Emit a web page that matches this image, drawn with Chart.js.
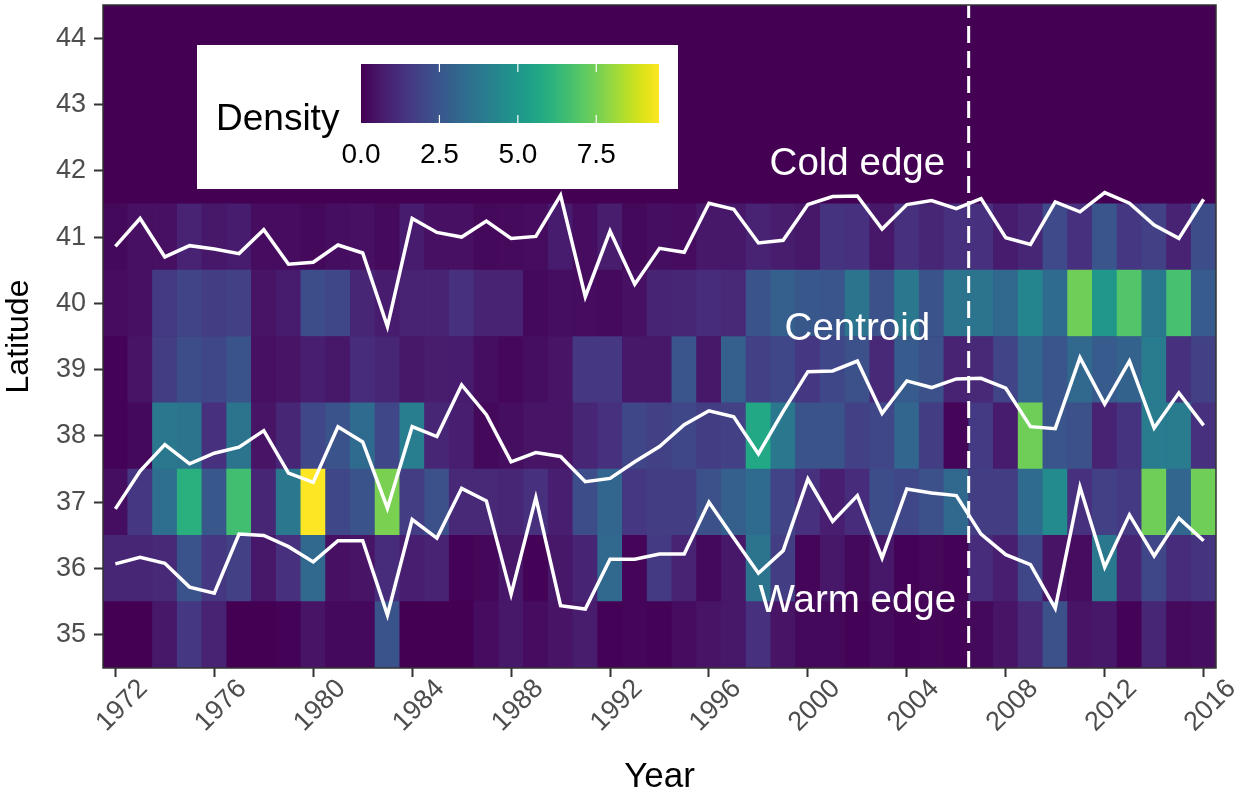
<!DOCTYPE html>
<html>
<head>
<meta charset="utf-8">
<script src="https://cdn.jsdelivr.net/npm/chart.js@4.4.0/dist/chart.umd.min.js"></script>
<style>
html,body{margin:0;padding:0;background:#ffffff;}
#wrap{width:1249px;height:798px;}
</style>
</head>
<body>
<div id="wrap"><canvas id="c" width="1249" height="798"></canvas></div>
<script>
// ---------- data ----------
const years = [1972,1973,1974,1975,1976,1977,1978,1979,1980,1981,1982,1983,1984,1985,1986,1987,1988,1989,1990,1991,1992,1993,1994,1995,1996,1997,1998,1999,2000,2001,2002,2003,2004,2005,2006,2007,2008,2009,2010,2011,2012,2013,2014,2015,2016];
const latitudes = [35,36,37,38,39,40,41];
const density35 = [0,0,0.6,1.5,0.9,0,0,0.05,0.5,0.2,0.2,2.4, 0,0,0,0.3,0.6,0.3,0.5,0.75,0.05,0.1,0.05, 0.3,0.5,0.6,1.3,0.5,0.2,0.2,0.05,0.25,0.05,0.1, 0.05,0.2,0.5,1.1,2.3,0.5,0.6,0.05,1.0,0.25,0.35];
const density36 = [1.0,1.0,1.1,2.4,1.5,1.8,0.6,1.3,3.2,0.4,0.5,1.2, 0.8,0.9,0.05,0.15,0.6,0.05,0.6,0.95,3.2,0.1,1.6, 0.9,0.2,0.6,3.6,1.7,0.1,0.6,0.2,0.6,0.05,0.15, 0.05,1.2,0.8,2.0,0.5,0.3,3.8,0.95,2.0,1.2,1.4];
const density37 = [0.35,1.5,3.4,6.0,2.6,6.6,1.0,3.8,9.5,2.0,2.4,7.6, 1.7,2.3,1.1,1.1,1.0,1.3,0.8,2.2,3.1,1.5,1.7, 1.7,2.3,2.85,3.3,1.9,1.3,0.8,1.2,2.2,2.0,2.3, 3.2,1.7,1.7,3.3,4.5,1.3,1.8,1.6,7.4,3.1,7.4];
const density38 = [0.05,0.2,3.8,3.6,1.3,3.6,0.5,1.0,2.0,2.4,3.3,2.0, 4.0,1.0,0.8,0.2,0.35,0.5,0.5,1.0,1.3,2.0,1.8, 2.0,1.7,1.8,5.7,3.8,2.4,2.4,1.8,2.0,3.1,1.7, 0.1,1.6,0.7,7.4,2.5,2.3,0.9,1.4,3.9,3.9,1.3];
const density39 = [0.05,0.5,1.7,2.2,2.0,2.4,0.4,0.5,0.8,0.6,1.2,1.0, 0.6,0.75,0.7,0.35,0.15,0.35,0.5,1.5,1.5,0.6,0.6, 2.5,0.6,2.85,1.8,2.0,1.5,2.0,2.3,1.1,2.7,2.3, 0.9,1.1,1.9,3.1,2.5,3.2,2.7,3.0,3.9,1.3,1.8];
const density40 = [0.3,0.4,1.6,1.9,1.7,1.8,0.5,0.7,2.2,2.0,1.0,0.7, 0.9,0.9,1.3,0.9,0.9,0.2,0.35,0.3,0.25,0.4,0.95, 1.0,1.2,1.1,2.4,2.85,2.6,2.5,3.6,2.3,3.8,2.4, 3.6,3.6,3.2,4.3,3.3,7.4,5.0,6.9,3.8,6.7,2.7];
const density41 = [0.2,0.4,0.4,0.9,0.6,0.7,0.3,0.3,0.2,0.35,0.4,0.25, 0.7,0.4,0.4,0.2,0.25,0.3,0.7,0.3,0.75,0.2,0.35, 0.3,0.6,0.6,0.9,0.75,0.6,1.4,1.3,0.6,1.3,1.0, 1.3,1.3,0.7,1.0,2.1,1.3,2.5,1.5,1.8,0.9,2.2];
const coldEdge = [40.86,41.28,40.70,40.87,40.82,40.75,41.11,40.59,40.62,40.88,40.76,39.65, 41.28,41.07,41.00,41.24,40.98,41.01,41.63,40.10,41.09,40.29,40.83, 40.77,41.51,41.42,40.91,40.95,41.49,41.61,41.62,41.12,41.49,41.55, 41.43,41.58,40.99,40.89,41.53,41.38,41.67,41.51,41.18,40.98,41.57];
const centroid = [36.90,37.47,37.87,37.58,37.74,37.83,38.08,37.44,37.30,38.14,37.91,36.91, 38.14,37.99,38.77,38.32,37.61,37.75,37.69,37.31,37.36,37.61,37.84, 38.17,38.38,38.29,37.73,38.37,38.97,38.98,39.13,38.34,38.83,38.73, 38.86,38.87,38.72,38.14,38.11,39.18,38.48,39.13,38.12,38.65,38.16];
const warmEdge = [36.07,36.17,36.08,35.72,35.63,36.52,36.50,36.33,36.10,36.42,36.42,35.30, 36.74,36.46,37.21,37.02,35.61,37.07,35.44,35.39,36.14,36.14,36.22, 36.22,37.00,36.46,35.93,36.27,37.35,36.71,37.10,36.16,37.20,37.14, 37.10,36.52,36.21,36.06,35.40,37.23,36.02,36.81,36.19,36.76,36.42];
const xTicks = [1972,1976,1980,1984,1988,1992,1996,2000,2004,2008,2012,2016];
const yTicks = [35,36,37,38,39,40,41,42,43,44];
const legendTicks = [0,2.5,5,7.5];
const legendTickLabels = ['0.0','2.5','5.0','7.5'];
const breakYear = 2006.5;
const lineLabels = [
  {text:'Cold edge', year:2002, lat:42.1},
  {text:'Centroid',  year:2002, lat:39.6},
  {text:'Warm edge', year:2002, lat:35.5}
];
const densityRows = [density35,density36,density37,density38,density39,density40,density41];

// ---------- colour scale (viridis) ----------
const VIR = ['#440154','#471365','#482475','#463480','#414487','#3b528b','#355f8d','#2f6c8e','#2a788e','#25848e','#21918c','#1e9c89','#22a884','#2fb47c','#44bf70','#5ec962','#7ad151','#9bd93c','#bddf26','#dfe318','#fde725'];
const VIRRGB = VIR.map(h => [parseInt(h.slice(1,3),16),parseInt(h.slice(3,5),16),parseInt(h.slice(5,7),16)]);
function viridis(t){
  t = Math.max(0, Math.min(1, t));
  const p = t * (VIRRGB.length - 1);
  const i = Math.min(Math.floor(p), VIRRGB.length - 2);
  const f = p - i;
  const a = VIRRGB[i], b = VIRRGB[i+1];
  const c = a.map((v,k) => Math.round(v + (b[k]-v)*f));
  return 'rgb(' + c.join(',') + ')';
}
const dMax = Math.max(...densityRows.flat());
const colorFor = v => viridis(v / dMax);

const FONT = "'Liberation Sans', Arial, Helvetica, sans-serif";

// ---------- datasets ----------
const datasets = [];
latitudes.forEach((lat, r) => {
  datasets.push({
    type: 'bar',
    data: years.map((yr, i) => ({x: yr, y: [lat - 0.5, lat + 0.5]})),
    backgroundColor: densityRows[r].map(colorFor),
    borderWidth: 0,
    grouped: false,
    barPercentage: 1,
    categoryPercentage: 1,
    order: 10
  });
});
function lineSet(vals){
  return {
    type: 'line',
    data: years.map((yr, i) => ({x: yr, y: vals[i]})),
    borderColor: '#ffffff',
    borderWidth: 3.5,
    pointRadius: 0,
    tension: 0,
    fill: false,
    order: 1
  };
}
datasets.push(lineSet(coldEdge), lineSet(centroid), lineSet(warmEdge));
datasets.push({
  type: 'line',
  data: [{x: breakYear, y: 34.5}, {x: breakYear, y: 44.5}],
  borderColor: '#ffffff',
  borderWidth: 3,
  borderDash: [17, 8],
  pointRadius: 0,
  fill: false,
  order: 0
});

// ---------- plugins ----------
const panelBg = {
  id: 'panelBg',
  beforeDraw(chart){
    const {ctx, chartArea: a} = chart;
    ctx.save();
    ctx.fillStyle = viridis(0);
    ctx.fillRect(a.left, a.top, a.right - a.left, a.bottom - a.top);
    ctx.restore();
  }
};
const overlay = {
  id: 'overlay',
  afterDraw(chart){
    const {ctx, chartArea: a} = chart;
    const xs = chart.scales.x, ys = chart.scales.y;
    ctx.save();
    // line labels
    ctx.fillStyle = '#ffffff';
    ctx.font = '38.5px ' + FONT;
    ctx.textAlign = 'center';
    ctx.textBaseline = 'middle';
    lineLabels.forEach(l => ctx.fillText(l.text, xs.getPixelForValue(l.year), ys.getPixelForValue(l.lat)));
    // legend box
    const bx = 197, by = 45, bw = 481, bh = 144;
    ctx.fillStyle = '#ffffff';
    ctx.fillRect(bx, by, bw, bh);
    ctx.fillStyle = '#000000';
    ctx.font = '37px ' + FONT;
    ctx.textAlign = 'left';
    ctx.textBaseline = 'middle';
    ctx.fillText('Density', 216, 120);
    const gx = 361, gy = 64, gw = 298, gh = 59;
    const grad = ctx.createLinearGradient(gx, 0, gx + gw, 0);
    for (let k = 0; k <= 40; k++) grad.addColorStop(k/40, viridis(k/40));
    ctx.fillStyle = grad;
    ctx.fillRect(gx, gy, gw, gh);
    ctx.strokeStyle = '#ffffff';
    ctx.lineWidth = 1.2;
    ctx.font = '28px ' + FONT;
    ctx.fillStyle = '#000000';
    ctx.textAlign = 'center';
    legendTicks.forEach((v, k) => {
      const px = gx + v / dMax * gw;
      if (v > 0) {
        ctx.beginPath();
        ctx.moveTo(px, gy); ctx.lineTo(px, gy + 8);
        ctx.moveTo(px, gy + gh - 8); ctx.lineTo(px, gy + gh);
        ctx.stroke();
      }
      ctx.fillText(legendTickLabels[k], px, 155);
    });
    // panel border
    ctx.strokeStyle = '#333333';
    ctx.lineWidth = 1.5;
    ctx.strokeRect(a.left, a.top, a.right - a.left, a.bottom - a.top);
    ctx.restore();
  }
};

new Chart(document.getElementById('c'), {
  type: 'bar',
  data: {datasets},
  options: {
    responsive: false,
    animation: false,
    devicePixelRatio: 1,
    layout: {padding: {left: 0, top: 5, right: 33, bottom: 0}},
    plugins: {legend: {display: false}, tooltip: {enabled: false}},
    scales: {
      x: {
        type: 'linear',
        min: 1971.5,
        max: 2016.5,
        offset: false,
        afterBuildTicks: s => { s.ticks = xTicks.map(v => ({value: v})); },
        afterFit: s => { s.height = 130; s.paddingLeft = 0; s.paddingRight = 0; },
        grid: {offset: false, drawOnChartArea: false, drawTicks: true, tickLength: 9, tickWidth: 2, tickColor: '#333333'},
        border: {display: false},
        ticks: {
          autoSkip: false,
          minRotation: 45,
          maxRotation: 45,
          color: '#4d4d4d',
          font: {family: FONT, size: 27},
          padding: -4,
          labelOffset: 28,
          callback: v => String(v)
        },
        title: {display: true, text: 'Year', color: '#000000', font: {family: FONT, size: 35}, padding: {top: 0, bottom: 0}}
      },
      y: {
        type: 'linear',
        min: 34.5,
        max: 44.5,
        afterBuildTicks: s => { s.ticks = yTicks.map(v => ({value: v})); },
        afterFit: s => { s.width = 103; s.paddingTop = 0; s.paddingBottom = 0; },
        grid: {drawOnChartArea: false, drawTicks: true, tickLength: 9, tickWidth: 2, tickColor: '#333333'},
        border: {display: false},
        ticks: {
          color: '#4d4d4d',
          font: {family: FONT, size: 27},
          padding: 8,
          callback: v => String(v)
        },
        title: {display: true, text: 'Latitude', color: '#000000', font: {family: FONT, size: 32}, padding: {top: 0, bottom: 0}}
      }
    }
  },
  plugins: [panelBg, overlay]
});
</script>
</body>
</html>
